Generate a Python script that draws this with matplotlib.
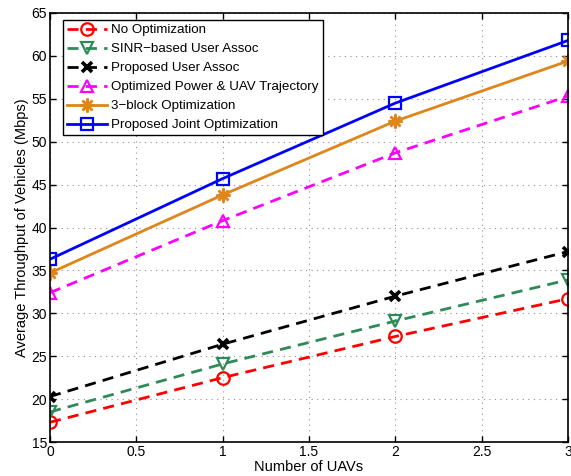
import matplotlib; matplotlib.use("Agg")
import matplotlib.pyplot as plt
import numpy as np

plt.rcParams['font.family'] = ['Liberation Sans', 'DejaVu Sans']

uavs = [0, 1, 2, 3]
no_opt = [17.3, 22.5, 27.3, 31.7]
sinr_assoc = [18.5, 24.1, 29.1, 33.9]
prop_assoc = [20.3, 26.4, 32.0, 37.2]
opt_power_traj = [32.4, 40.8, 48.7, 55.3]
three_block = [34.7, 43.8, 52.4, 59.4]
joint_opt = [36.3, 45.7, 54.5, 61.8]
labels = ["No Optimization", "SINR\u2212based User Assoc", "Proposed User Assoc",
          "Optimized Power & UAV Trajectory", "3\u2212block Optimization", "Proposed Joint Optimization"]

fig = plt.figure(figsize=(5.71, 4.76), dpi=100)
ax = fig.add_axes([50/571, 1-442/476, 518/571, 429/476])

orange = "#E0851A"; green = "#2E8B57"
kw = dict(lw=2, ms=9, mew=1.6, fillstyle="none")
ax.plot(uavs, no_opt, "--", color="red", marker="o", label=labels[0], dashes=(4, 2.6), **kw)
ax.plot(uavs, sinr_assoc, "--", color=green, marker="v", label=labels[1], dashes=(4, 2.6), **kw)
ax.plot(uavs, prop_assoc, "--", color="black", marker="x", label=labels[2], dashes=(4, 2.6),
        lw=2, ms=7, mew=2.6)
ax.plot(uavs, opt_power_traj, "--", color="magenta", marker="^", label=labels[3], dashes=(4, 2.6), **kw)
ax.plot(uavs, three_block, "-", color=orange, marker=(8, 2, 0), label=labels[4], lw=2, ms=10, mew=1.8)
ax.plot(uavs, joint_opt, "-", color="blue", marker="s", label=labels[5], **kw)

ax.set_xlim(0, 3); ax.set_ylim(15, 65)
ax.set_xticks([0, 0.5, 1, 1.5, 2, 2.5, 3]); ax.set_xticklabels(["0", "0.5", "1", "1.5", "2", "2.5", "3"])
ax.set_yticks(range(15, 70, 5))
ax.tick_params(direction="in", top=True, right=True, labelsize=10, length=4, width=1, pad=2)
ax.grid(True, linestyle=(0, (1, 4)), color="#909090", lw=0.8)
for s in ax.spines.values(): s.set_linewidth(1.2)
ax.set_xlabel("Number of UAVs", fontsize=10.5, labelpad=1)
ax.set_ylabel("Average Throughput of Vehicles (Mbps)", fontsize=10.5, labelpad=2)
leg = ax.legend(loc="upper left", bbox_to_anchor=(0.026, 0.984), fontsize=9.6, handlelength=3.0,
                fancybox=False, framealpha=1, edgecolor="black", borderpad=0.3, labelspacing=0.5,
                handletextpad=0.3, borderaxespad=0)
leg.get_frame().set_linewidth(1.0)
fig.savefig("out.png", dpi=100)
